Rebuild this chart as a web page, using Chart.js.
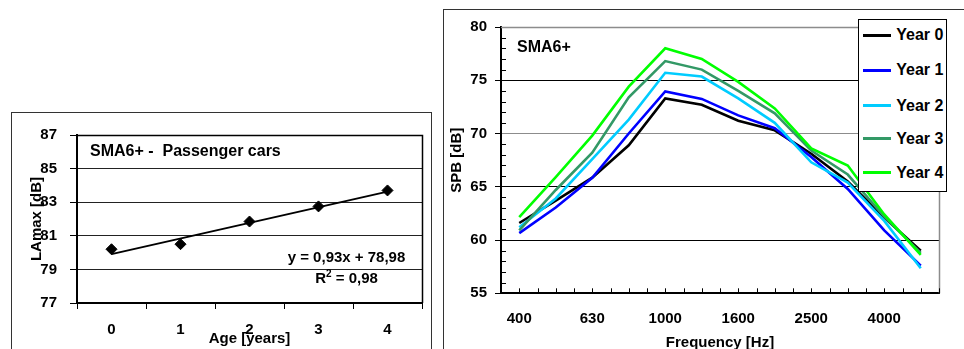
<!DOCTYPE html>
<html><head><meta charset="utf-8">
<script src="https://cdn.jsdelivr.net/npm/chart.js@4.4.1/dist/chart.umd.min.js"></script>
<style>
html,body{margin:0;padding:0;width:964px;height:349px;overflow:hidden;background:#fff;font-family:'Liberation Sans',Arial,sans-serif;color:#000;}
.frame{position:absolute;box-sizing:border-box;border:1.5px solid #333;}
canvas{position:absolute;}
.txt{position:absolute;white-space:pre;font-weight:bold;font-family:'Liberation Sans',Arial,sans-serif;}
#legend{position:absolute;left:858.3px;top:19px;width:89px;height:173.3px;box-sizing:border-box;border:1.5px solid #000;background:#fff;}
.legItem{position:absolute;left:0;height:20px;line-height:20px;width:86px;}
.sw{position:absolute;left:4.2px;top:8.5px;width:28px;height:3px;}
.lbl{position:absolute;left:36.9px;top:0;font-weight:bold;font-size:16px;white-space:pre;}
</style></head><body>
<div class="frame" style="left:11px;top:112px;width:421px;height:300px;"></div>
<div class="frame" style="left:443px;top:9px;width:600px;height:400px;"></div>
<canvas id="c1" width="419" height="236" style="left:12px;top:113px;"></canvas>
<canvas id="c2" width="520" height="360" style="left:444px;top:10px;"></canvas>
<div class="txt" style="left:90px;top:141.7px;font-size:16px;line-height:18px;">SMA6+ -  Passenger cars</div>
<div class="txt" style="left:266.5px;top:246px;width:160px;text-align:center;font-size:15px;line-height:21.3px;">y = 0,93x + 78,98<br>R<sup style="font-size:10px;line-height:0;">2</sup> = 0,98</div>
<div class="txt" style="left:517px;top:37.7px;font-size:16px;line-height:18px;">SMA6+</div>
<div id="legend"></div>
<script>
// ---- Left chart data ----
const ageCategories = ['0', '1', '2', '3', '4'];
const lamaxValues = [80.2, 80.5, 81.85, 82.75, 83.7];
const trendValues = [79.91, null, null, null, 83.63];

// ---- Right chart data ----
const freqCategories = ['400','500','630','800','1000','1250','1600','2000','2500','3150','4000','5000'];
const freqTickLabels = ['400','','630','','1000','','1600','','2500','','4000',''];
const seriesNames = ['Year 0', 'Year 1', 'Year 2', 'Year 3', 'Year 4'];
const year0 = [61.6, 63.7, 65.85, 68.9, 73.3, 72.7, 71.2, 70.3, 68.1, 65.5, 62.1, 59.0];
const year1 = [60.65, 63.05, 65.85, 70.0, 73.95, 73.25, 71.7, 70.5, 67.8, 64.8, 60.9, 57.6];
const year2 = [61.2, 63.9, 67.6, 71.3, 75.7, 75.35, 73.3, 71.0, 67.3, 65.4, 61.8, 57.35];
const year3 = [60.9, 64.7, 68.2, 73.4, 76.8, 76.0, 74.0, 71.9, 68.4, 66.15, 62.2, 58.8];
const year4 = [62.15, 65.9, 69.8, 74.4, 78.0, 77.0, 74.85, 72.35, 68.6, 67.0, 62.4, 58.6];

Chart.defaults.font.family = "'Liberation Sans', Arial, sans-serif";
Chart.defaults.font.weight = 'bold';
Chart.defaults.font.size = 15;
Chart.defaults.color = '#000';

const frameLines = {
  id: 'frameLines',
  beforeDatasetsDraw(chart, args, opts) {
    const ctx = chart.ctx, a = chart.chartArea;
    ctx.save();
    ctx.strokeStyle = opts.color; ctx.lineWidth = opts.width;
    ctx.beginPath();
    ctx.moveTo(a.left, Math.round(a.top) + 0.5);
    ctx.lineTo(Math.round(a.right) + 0.5, Math.round(a.top) + 0.5);
    ctx.lineTo(Math.round(a.right) + 0.5, a.bottom);
    ctx.stroke();
    if (opts.minor) {
      const ys = chart.scales.y, xs = chart.scales.x;
      ctx.strokeStyle = '#000'; ctx.lineWidth = 1;
      ctx.beginPath();
      for (let v = ys.min; v <= ys.max; v++) {
        if (v % 5 === 0) continue;
        const py = Math.round(ys.getPixelForValue(v)) + 0.5;
        ctx.moveTo(a.left, py); ctx.lineTo(a.left + 5, py);
      }
      const n = xs.ticks.length * 2;
      for (let k = 0; k <= n; k++) {
        const px = Math.round(a.left + k * (a.right - a.left) / n) + 0.5;
        ctx.moveTo(px, a.bottom); ctx.lineTo(px, a.bottom - 5);
      }
      ctx.stroke();
    }
    ctx.restore();
  }
};

// ---- Left chart ----
new Chart(document.getElementById('c1'), {
  type: 'line',
  data: {
    labels: ageCategories,
    datasets: [
      { label: 'LAmax', data: lamaxValues, showLine: false, pointStyle: 'rectRot', pointRadius: 5.5,
        backgroundColor: '#000', borderColor: '#000', borderWidth: 1, order: 0 },
      { label: 'Trend', data: trendValues, spanGaps: true, borderColor: '#000', borderWidth: 2,
        pointRadius: 0, order: 1 }
    ]
  },
  options: {
    responsive: false, animation: false,
    layout: { padding: { left: 0, right: 9, top: 19, bottom: 0 } },
    plugins: { legend: { display: false }, tooltip: { enabled: false },
      frameLines: { color: '#000', width: 1.5, minor: false } },
    scales: {
      x: {
        offset: true,
        grid: { display: true, drawOnChartArea: false, drawTicks: true, tickLength: 6, offset: true, tickColor: '#000' },
        border: { display: true, color: '#000', width: 2 },
        ticks: { padding: 12, maxRotation: 0, autoSkip: false },
        title: { display: true, text: 'Age [years]', padding: { top: 0, bottom: 1 } },
        afterFit(s) { s.height = 46; }
      },
      y: {
        min: 77, max: 87,
        ticks: { stepSize: 2, padding: 13 },
        grid: { color: '#222', lineWidth: 1, drawTicks: true, tickLength: 7, tickColor: '#000' },
        border: { display: true, color: '#000', width: 2 },
        title: { display: true, text: 'LAmax [dB]', padding: { top: 16, bottom: 0 } },
        afterFit(s) { s.width = 65; }
      }
    }
  },
  plugins: [frameLines]
});

// ---- Right chart ----
const colors = ['#000000', '#0000ff', '#00ccff', '#339966', '#00ff00'];
const seriesData = [year0, year1, year2, year3, year4];
const chart2 = new Chart(document.getElementById('c2'), {
  type: 'line',
  data: {
    labels: freqCategories,
    datasets: seriesNames.map((name, i) => ({
      label: name, data: seriesData[i], borderColor: colors[i], backgroundColor: colors[i],
      borderWidth: 2.6, pointRadius: 0, fill: false, tension: 0, order: 4 - i
    }))
  },
  options: {
    responsive: false, animation: false,
    layout: { padding: { left: 0, right: 25, top: 12.7, bottom: 0 } },
    plugins: { legend: { display: false }, tooltip: { enabled: false },
      frameLines: { color: '#8c8c8c', width: 1.5, minor: true } },
    scales: {
      x: {
        offset: true,
        grid: { display: true, drawOnChartArea: false, drawTicks: false },
        border: { display: true, color: '#000', width: 2 },
        ticks: { padding: 17, maxRotation: 0, autoSkip: false,
          callback: (v, i) => freqTickLabels[i] },
        title: { display: true, text: 'Frequency [Hz]', padding: { top: 0, bottom: 17.7 } },
        afterFit(s) { s.height = 76.7; }
      },
      y: {
        min: 55, max: 80,
        ticks: { stepSize: 5, padding: 8 },
        grid: { lineWidth: 1, drawTicks: true, tickLength: 6, tickColor: '#000',
          color: c => (c.tick && (c.tick.value === 70 || c.tick.value === 80)) ? '#8c8c8c' : '#000' },
        border: { display: true, color: '#000', width: 2 },
        title: { display: true, text: 'SPB [dB]', padding: { top: 4, bottom: 0 } },
        afterFit(s) { s.width = 57; }
      }
    }
  },
  plugins: [frameLines]
});

// HTML legend built from the chart's datasets
const leg = document.getElementById('legend');
const centers = [16.7, 51.7, 87, 120.3, 154.3];
chart2.data.datasets.forEach((ds, i) => {
  const item = document.createElement('div');
  item.className = 'legItem';
  item.style.top = (centers[i] - 10 - 1.5) + 'px';
  item.innerHTML = '<span class="sw" style="background:' + ds.borderColor + '"></span><span class="lbl">' + ds.label + '</span>';
  leg.appendChild(item);
});
</script>
</body></html>
